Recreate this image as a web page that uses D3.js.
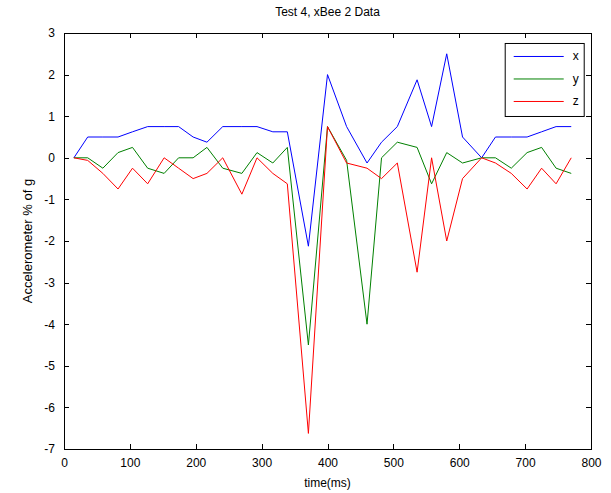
<!DOCTYPE html>
<html>
<meta charset="utf-8">
<head>
<title>Test 4, xBee 2 Data</title>
<script src="https://cdn.jsdelivr.net/npm/d3@7"></script>
<style>
body { margin: 0; background: #fff; }
text { font-family: "Liberation Sans", Arial, sans-serif; font-size: 12px; fill: #000; }
.axis path, .axis line { stroke: #000; shape-rendering: crispEdges; }
</style>
</head>
<body>
<div id="grafico"></div>
<script>
// tiempos de muestra (ms)
var tiempos = [15, 36, 59, 82, 104, 127, 152, 174, 196, 217, 241, 270, 293, 317, 339, 371,
	400, 429, 460, 482, 506, 536, 558, 581, 605, 634, 655, 679, 703, 725, 747, 770];

var serieX = [0, 0.5, 0.5, 0.5, 0.625, 0.75, 0.75, 0.75, 0.5, 0.375, 0.75, 0.75, 0.75, 0.625, 0.625, -2.125,
	2.0, 0.75, -0.125, 0.375, 0.75, 1.875, 0.75, 2.5, 0.5, 0, 0.5, 0.5, 0.5, 0.625, 0.75, 0.75];

var serieY = [0, 0, -0.25, 0.125, 0.25, -0.25, -0.375, 0, 0, 0.25, -0.25, -0.375, 0.125, -0.125, 0.25, -4.5,
	0.75, -0.0625, -4.0, 0, 0.375, 0.25, -0.625, 0.125, -0.125, 0, 0, -0.25, 0.125, 0.25, -0.25, -0.375];

var serieZ = [0, -0.0625, -0.375, -0.75, -0.25, -0.625, 0, -0.25, -0.5, -0.375, 0, -0.875, 0, -0.375, -0.625, -6.625,
	0.75, -0.125, -0.25, -0.5, -0.125, -2.75, 0, -2.0, -0.5, 0, -0.125, -0.375, -0.75, -0.25, -0.625, 0];

var nombres = ["x", "y", "z"];
var colores = ["#0000ff", "#008000", "#ff0000"];
var ticksX = [0, 100, 200, 300, 400, 500, 600, 700, 800];
var ticksY = [3, 2, 1, 0, -1, -2, -3, -4, -5, -6, -7];

var series = [serieX, serieY, serieZ];

var margin = {top: 33, right: 20, bottom: 44, left: 64},
	width = 611 - margin.left - margin.right,
	height = 493 - margin.top - margin.bottom;

var svg = d3.select("#grafico").append("svg")
	.attr("width", 611)
	.attr("height", 493)
  .append("g")
	.attr("transform", "translate(" + margin.left + "," + margin.top + ")");

var x = d3.scaleLinear().domain([0, 800]).range([0, width]);
var y = d3.scaleLinear().domain([-7, 3]).range([height, 0]);

// guion simple como en matlab, no el signo menos unicode
var formato = function(d) { return String(d); };

// ejes con ticks hacia adentro (estilo matlab)
svg.append("g")
	.attr("class", "x axis")
	.attr("transform", "translate(0," + height + ")")
	.call(d3.axisBottom(x).tickValues(ticksX).tickFormat(formato).tickSizeInner(-5).tickSizeOuter(0).tickPadding(9));

svg.append("g")
	.attr("class", "x axis")
	.call(d3.axisTop(x).tickValues(ticksX).tickSizeInner(-5).tickSizeOuter(0).tickFormat(""));

svg.append("g")
	.attr("class", "y axis")
	.call(d3.axisLeft(y).tickValues(ticksY).tickFormat(formato).tickSizeInner(-5).tickSizeOuter(0).tickPadding(9));

svg.append("g")
	.attr("class", "y axis")
	.attr("transform", "translate(" + width + ",0)")
	.call(d3.axisRight(y).tickValues(ticksY).tickSizeInner(-5).tickSizeOuter(0).tickFormat(""));

svg.selectAll(".axis text").style("font-size", "12px").style("font-family", "'Liberation Sans', Arial, sans-serif");

var linea = d3.line()
	.x(function(d, i) { return x(tiempos[i]); })
	.y(function(d) { return y(d); });

svg.selectAll(".serie")
	.data(series)
  .enter().append("path")
	.attr("class", "serie")
	.attr("fill", "none")
	.attr("stroke", function(d, i) { return colores[i]; })
	.attr("stroke-width", 1)
	.attr("d", linea);

// leyenda
var leyenda = svg.append("g").attr("transform", "translate(" + (x(669)) + "," + (y(2.76)) + ")");
leyenda.append("rect")
	.attr("x", 0.5).attr("y", 0.5)
	.attr("width", 79).attr("height", 73)
	.attr("fill", "#fff")
	.attr("stroke", "#000");
nombres.forEach(function(n, i) {
	var yy = 13.5 + i * 22.5;
	leyenda.append("line")
		.attr("x1", 9).attr("x2", 59)
		.attr("y1", yy).attr("y2", yy)
		.attr("stroke", colores[i]);
	leyenda.append("text")
		.attr("x", 68).attr("y", yy + 4)
		.text(n);
});

// titulo y etiquetas
svg.append("text")
	.attr("x", width / 2).attr("y", -17)
	.attr("text-anchor", "middle")
	.text("Test 4, xBee 2 Data");

svg.append("text")
	.attr("x", width / 2).attr("y", height + 38)
	.attr("text-anchor", "middle")
	.text("time(ms)");

svg.append("text")
	.attr("transform", "translate(-32," + (height / 2) + ") rotate(-90)")
	.attr("text-anchor", "middle")
	.style("font-size", "13px")
	.text("Accelerometer % of g");
</script>
</body>
</html>
